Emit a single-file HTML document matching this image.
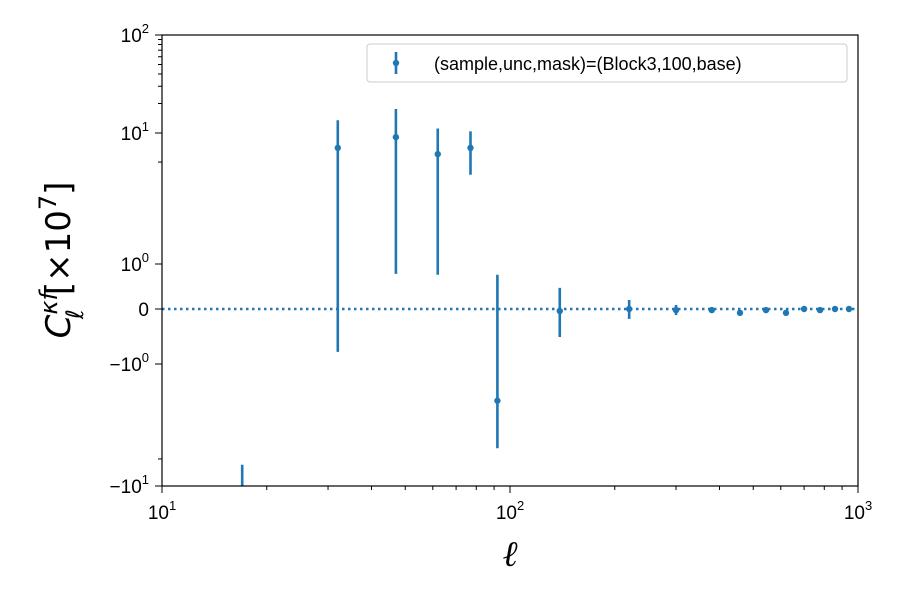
<!DOCTYPE html>
<html><head><meta charset="utf-8"><style>body{margin:0;background:#fff}svg{font-family:"Liberation Sans","DejaVu Sans",sans-serif}</style></head>
<body>
<svg id="c" width="900" height="600" xmlns="http://www.w3.org/2000/svg">
<defs><clipPath id="clip"><rect x="162" y="35" width="696" height="451"/></clipPath></defs>
<g id="plot" clip-path="url(#clip)"></g>
<g id="axes"></g>
</svg>
<script>
const ells=[17,32,47,62,77,92,139,220,300,380,458,544,621,700,778,859,942];
const vals=[-30,7.7,9.3,6.9,7.7,-2.0,-0.036,0,-0.02,-0.02,-0.07,-0.02,-0.07,0,-0.02,0,0];
const upper=[-6.7,13.5,17.6,11.1,10.4,0.76,0.47,0.2,0.09,0.03,-0.04,0.01,-0.04,0.03,0.01,0.03,0.03];
const lower=[-60,-0.78,0.78,0.76,4.8,-4.9,-0.51,-0.18,-0.11,-0.07,-0.1,-0.05,-0.1,-0.03,-0.05,-0.03,-0.03];
const yTicks=[-10,-1,0,1,10,100];
const yTickLabels=["\u221210<tspan dy='-9' font-size='13'>1</tspan>","\u221210<tspan dy='-9' font-size='13'>0</tspan>","0","10<tspan dy='-9' font-size='13'>0</tspan>","10<tspan dy='-9' font-size='13'>1</tspan>","10<tspan dy='-9' font-size='13'>2</tspan>"];
const xTicks=[10,100,1000];
const xTickLabels=["10<tspan dy='-9' font-size='13'>1</tspan>","10<tspan dy='-9' font-size='13'>2</tspan>","10<tspan dy='-9' font-size='13'>3</tspan>"];
const NS="http://www.w3.org/2000/svg";
function X(l){return 162+(Math.log10(l)-1)*348;}
function Y(v){
 if(v>=10) return 133-(Math.log10(v)-1)*98;
 if(v>=1) return 264-Math.log10(v)*131;
 if(v>=0) return 309-v*45;
 if(v>=-1) return 309-v*55;
 return 364+Math.log10(-v)*122;
}
function el(t,a,p){const e=document.createElementNS(NS,t);for(const k in a)e.setAttribute(k,a[k]);p.appendChild(e);return e;}
const plot=document.getElementById('plot'),axes=document.getElementById('axes');
const zl=el('line',{x1:162,x2:858,y1:Y(0),y2:Y(0),stroke:'#1f77b4','stroke-width':2.4,'stroke-dasharray':'2.5,3.5'},plot);


ells.forEach((l,i)=>{
 const b=el('line',{x1:X(l),x2:X(l),y1:Y(upper[i]),y2:Y(lower[i]),stroke:'#1f77b4','stroke-width':2.6},plot);
 
 
 const c=el('circle',{cx:X(l),cy:Y(vals[i]),r:3.2,fill:'#1f77b4'},plot);
 
 
});
const fr=el('rect',{x:162,y:35,width:696,height:451,fill:'none',stroke:'#000','stroke-width':1.2},axes);


yTicks.forEach((v,i)=>{
 el('line',{x1:155,x2:162,y1:Y(v),y2:Y(v),stroke:'#000'},axes);
 const t=el('text',{x:149,y:Y(v)+7,'text-anchor':'end','font-size':19},axes);t.innerHTML=yTickLabels[i];
 
 
});
[20,30,40,50,60,70,80,90,6,-6].forEach(v=>el('line',{x1:158,x2:162,y1:Y(v),y2:Y(v),stroke:'#000'},axes));
xTicks.forEach((v,i)=>{
 el('line',{x1:X(v),x2:X(v),y1:486,y2:493,stroke:'#000'},axes);
 const t=el('text',{x:X(v),y:519,'text-anchor':'middle','font-size':19},axes);t.innerHTML=xTickLabels[i];
 
 
});
for(let d=10;d<1000;d*=10)for(let k=2;k<10;k++)el('line',{x1:X(d*k),x2:X(d*k),y1:486,y2:490,stroke:'#000'},axes);
</script>
<svg width="900" height="600" style="position:absolute;left:0;top:0" xmlns="http://www.w3.org/2000/svg">
<text x="510" y="566" text-anchor="middle" font-size="36" font-style="italic" font-family="DejaVu Serif,serif">ℓ</text>
<text transform="translate(70,260) rotate(-90)" text-anchor="middle" font-size="34" font-family="DejaVu Sans,sans-serif"><tspan font-style="italic">C</tspan><tspan dy="-13" font-size="24" font-style="italic">κf</tspan><tspan dy="26" dx="-27" font-size="24" font-style="italic">ℓ</tspan><tspan dy="-13" dx="14">[×10</tspan><tspan dy="-14" font-size="24">7</tspan><tspan dy="14">]</tspan></text>
<g>
<rect x="367" y="44" width="480" height="38" rx="3" fill="#fff" stroke="#ccc"/>
<line x1="396" x2="396" y1="52" y2="74" stroke="#1f77b4" stroke-width="2.6"/>
<circle cx="396" cy="63" r="3.2" fill="#1f77b4"/>
<text x="434" y="70" font-size="18">(sample,unc,mask)=(Block3,100,base)</text>
</g>
</svg>
</body></html>
